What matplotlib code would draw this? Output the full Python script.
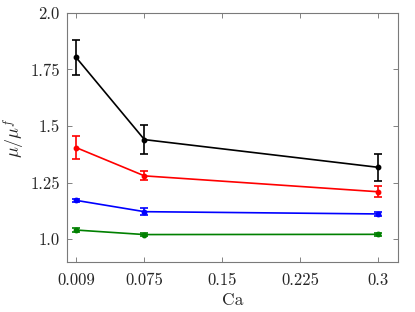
import matplotlib
matplotlib.use("Agg")
from matplotlib import pyplot as plt

plt.rcParams['font.family'] = ['cmr10', 'DejaVu Serif']
plt.rcParams['mathtext.fontset'] = 'cm'
plt.rcParams['axes.formatter.use_mathtext'] = True

ca = [0.009, 0.075, 0.3]
series_colors = ['black', 'red', 'blue', 'green']
mu_black = [1.803, 1.44, 1.318]
err_black = [0.078, 0.065, 0.06]
mu_red = [1.405, 1.28, 1.21]
err_red = [0.05, 0.02, 0.025]
mu_blue = [1.172, 1.122, 1.112]
err_blue = [0.007, 0.015, 0.01]
mu_green = [1.041, 1.021, 1.022]
err_green = [0.008, 0.007, 0.007]

x_ticks = [0.009, 0.075, 0.15, 0.225, 0.3]
x_ticklabels = ['0.009', '0.075', '0.15', '0.225', '0.3']
y_ticks = [1.0, 1.25, 1.5, 1.75, 2.0]
y_ticklabels = ['1.0', '1.25', '1.5', '1.75', '2.0']

fig = plt.figure(figsize=(4.15, 3.12), dpi=100)
ax = fig.add_axes([0.1607, 0.1603, 0.7993, 0.799])

for vals, errs, c in zip([mu_black, mu_red, mu_blue, mu_green],
                         [err_black, err_red, err_blue, err_green], series_colors):
    ax.errorbar(ca, vals, yerr=errs, color=c, marker='o', markersize=3.2,
                linewidth=1.2, elinewidth=1.2, capsize=3, capthick=1.2)

ax.set_xlim(0, 0.32)
ax.set_ylim(0.9, 2.0)
ax.set_xticks(x_ticks)
ax.set_xticklabels(x_ticklabels)
ax.set_yticks(y_ticks)
ax.set_yticklabels(y_ticklabels)
ax.tick_params(direction='in', top=True, right=True, length=3.5, width=0.6,
               colors='#6e6e6e', labelcolor='#262626', labelsize=12)
ax.tick_params(axis='x', pad=8)
ax.tick_params(axis='y', pad=5)
for s in ax.spines.values():
    s.set_color('#7a7a7a')
    s.set_linewidth(0.8)

ax.set_xlabel('Ca', fontsize=12.5, color='#262626', labelpad=3)
ax.set_ylabel(r'$\mu/\mu^f$', fontsize=13, color='#262626', labelpad=2)

fig.savefig('out.png', dpi=100)
